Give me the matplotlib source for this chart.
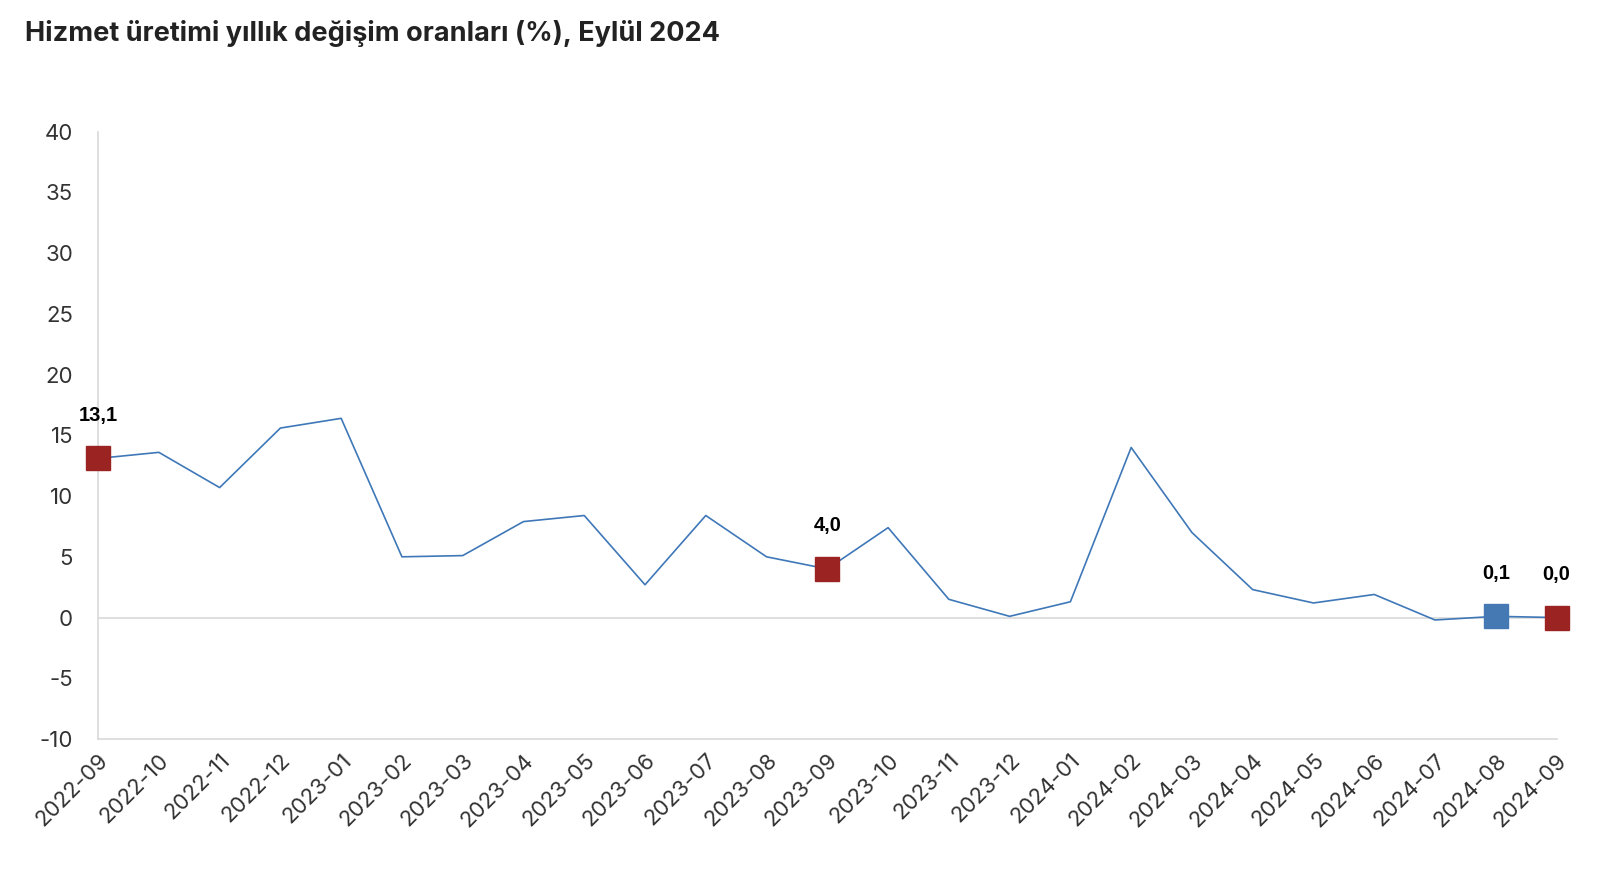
import matplotlib
matplotlib.use("Agg")
import matplotlib.pyplot as plt

# Monthly annual change rates of service production (%)
months = ["2022-09", "2022-10", "2022-11", "2022-12", "2023-01", "2023-02",
          "2023-03", "2023-04", "2023-05", "2023-06", "2023-07", "2023-08",
          "2023-09", "2023-10", "2023-11", "2023-12", "2024-01", "2024-02",
          "2024-03", "2024-04", "2024-05", "2024-06", "2024-07", "2024-08",
          "2024-09"]
values = [13.1, 13.6, 10.7, 15.6, 16.4, 5.0, 5.1, 7.9, 8.4, 2.7, 8.4, 5.0,
          4.0, 7.4, 1.5, 0.1, 1.3, 14.0, 7.0, 2.3, 1.2, 1.9, -0.2, 0.1, 0.0]

# highlighted points: index -> colour
highlight_idx = [0, 12, 23, 24]
highlight_col = ["#9b2423", "#9b2423", "#4479b3", "#9b2423"]

yticks = [-10, -5, 0, 5, 10, 15, 20, 25, 30, 35, 40]

fig = plt.figure(figsize=(16.08, 8.72), dpi=100)
ax = fig.add_axes([0.061, 0.1525, 0.907, 0.6965])

x = list(range(len(months)))
ax.plot(x, values, color="#3f78b8", linewidth=1.2, zorder=3)

for i, c in zip(highlight_idx, highlight_col):
    ax.plot(x[i], values[i], marker="s", markersize=17, color=c,
            linestyle="none", zorder=4, clip_on=False)
    label = f"{values[i]:.1f}".replace(".", ",")
    ax.annotate(label, (x[i], values[i]), xytext=(0, 31),
                textcoords="offset points", ha="center", va="center",
                fontsize=14.5, fontweight="bold", family="Liberation Sans",
                color="black")

ax.axhline(0, color="#d9d9d9", linewidth=1.2, zorder=1)

ax.set_xlim(0, len(months) - 1)
ax.set_ylim(-10, 40)
ax.set_yticks(yticks)
ax.set_yticklabels([str(v) for v in yticks], fontsize=16, family="Inter",
                   color="#333333")
ax.set_xticks(x)
ax.set_xticklabels(months, rotation=45, ha="right", rotation_mode="anchor",
                   fontsize=16, family="Inter", color="#333333")
ax.tick_params(axis="y", length=0, pad=18)
ax.tick_params(axis="x", length=0, pad=8)

for side in ["top", "right"]:
    ax.spines[side].set_visible(False)
for side in ["left", "bottom"]:
    ax.spines[side].set_color("#d9d9d9")
    ax.spines[side].set_linewidth(1.2)

fig.text(0.0155, 0.962, "Hizmet üretimi yıllık değişim oranları (%), Eylül 2024",
         fontsize=19.5, fontweight="bold", family="Inter", color="#222222",
         va="center", ha="left")

fig.savefig("out.png", dpi=100)
